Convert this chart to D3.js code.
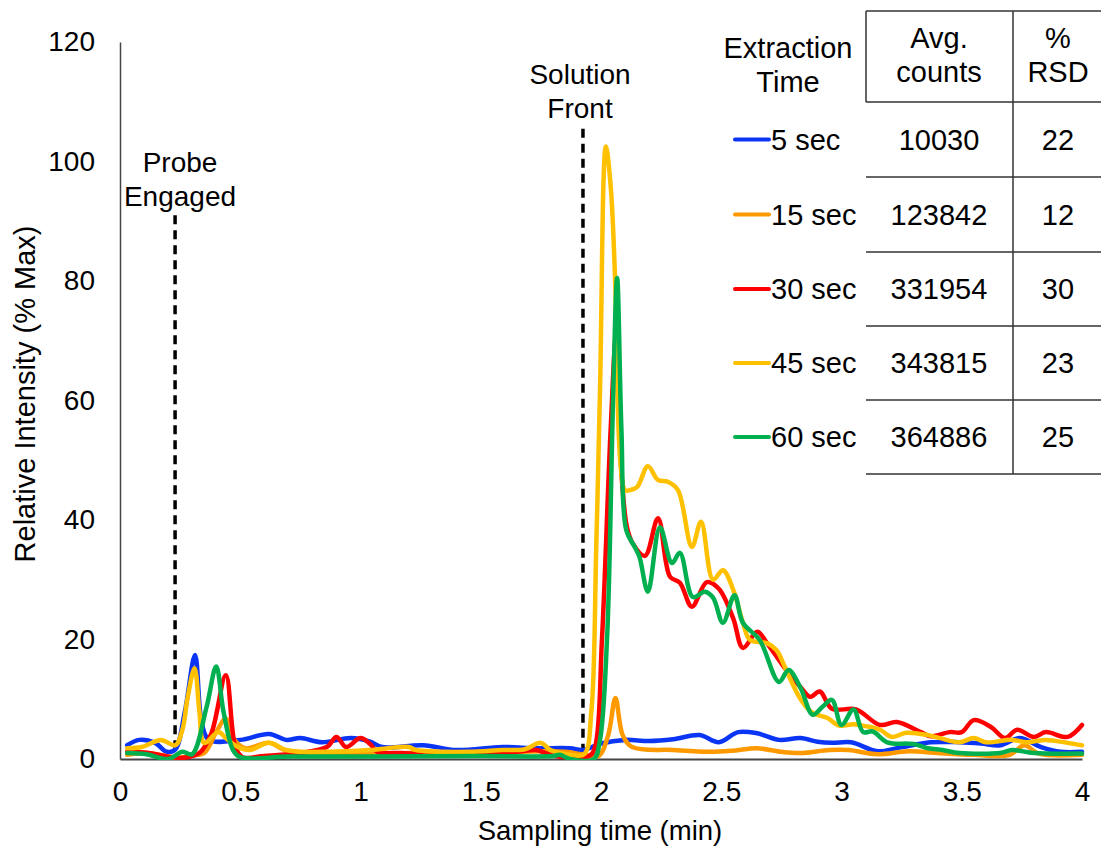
<!DOCTYPE html>
<html>
<head>
<meta charset="utf-8">
<script src="https://cdn.jsdelivr.net/npm/d3@7"></script>
<style>
  body { margin: 0; background: #fff; }
  svg { font-family: "Liberation Sans", Arial, sans-serif; }
</style>
</head>
<body>
<svg id="chart" width="1101" height="846"></svg>
<script>
// series data: [time (min), relative intensity (% max)]
var sec5 = [[0.03,2.3],[0.08,3.2],[0.146,2.7],[0.195,1.2],[0.23,1.6],[0.27,8],[0.312,17.4],[0.34,6],[0.37,3.2],[0.5,3.2],[0.62,4.2],[0.69,3.2],[0.75,3.5],[0.84,2.8],[0.96,3.5],[1.04,2.9],[1.09,2],[1.26,2.3],[1.4,1.5],[1.59,2],[1.73,1.8],[1.87,1.8],[1.925,1.5],[2.0,2.6],[2.1,3.2],[2.2,3.0],[2.3,3.3],[2.41,4.0],[2.49,2.8],[2.57,4.5],[2.65,4.3],[2.74,3.2],[2.83,3.5],[2.9,2.9],[2.96,2.7],[3.04,2.8],[3.15,1.3],[3.24,1.9],[3.37,2.8],[3.49,2.8],[3.58,2.6],[3.66,2.3],[3.74,3.5],[3.83,2.0],[3.91,1.2],[4.0,1.2]];
var sec15 = [[0.03,0.7],[0.1,1],[0.18,0.6],[0.23,0.2],[0.3,0.6],[0.35,1],[0.4,4.5],[0.44,6.8],[0.47,3.5],[0.52,1.8],[0.62,2.7],[0.69,1.4],[0.8,1],[1.0,0.8],[1.2,1],[1.4,1],[1.6,1.1],[1.75,1.3],[1.85,1.2],[1.93,0.7],[1.99,0.5],[2.03,4],[2.06,10.2],[2.09,4],[2.13,2],[2.3,1.5],[2.45,1.2],[2.55,1.4],[2.65,1.8],[2.75,1.2],[2.83,1],[2.95,1.5],[3.03,1.5],[3.15,0.8],[3.28,1.3],[3.4,1],[3.55,0.7],[3.7,0.7],[3.76,2.3],[3.82,0.9],[4.0,0.7]];
var sec30 = [[0.03,1.2],[0.12,1],[0.2,0.4],[0.26,0.2],[0.33,1],[0.38,4.3],[0.44,14],[0.48,2],[0.51,0.3],[0.6,0.5],[0.75,1],[0.86,2],[0.9,3.7],[0.94,2],[1.0,3.5],[1.04,2.5],[1.07,1.2],[1.17,1],[1.3,0.8],[1.5,1],[1.65,1.2],[1.73,1.5],[1.8,0.6],[1.95,0.5],[1.975,2],[2.004,20],[2.04,55],[2.063,71],[2.085,48],[2.108,38.8],[2.133,36],[2.183,34],[2.237,40.3],[2.287,30.5],[2.328,29.5],[2.378,25.5],[2.44,29.6],[2.49,28.5],[2.55,23.5],[2.59,18.6],[2.65,21.3],[2.69,19.4],[2.77,14.9],[2.83,12],[2.87,10.4],[2.91,11.3],[2.96,8.4],[3.06,8.3],[3.16,5.7],[3.23,6.2],[3.33,4.5],[3.37,3.8],[3.45,4.5],[3.5,4.5],[3.55,6.5],[3.62,5.4],[3.68,3.5],[3.73,4.9],[3.8,3.7],[3.85,4.5],[3.94,3.7],[4.0,5.7]];
var sec45 = [[0.03,1.8],[0.09,2],[0.17,3.2],[0.23,2.3],[0.26,5],[0.28,10],[0.31,15.2],[0.33,8],[0.35,2.7],[0.41,4.5],[0.44,3.5],[0.49,2],[0.54,1.5],[0.62,2.7],[0.69,1.5],[0.76,1.2],[0.86,1.2],[1.04,1.5],[1.2,2],[1.23,1.5],[1.45,1.2],[1.59,1.5],[1.68,1.6],[1.75,2.7],[1.79,1.5],[1.87,0.7],[1.93,0.8],[1.96,8],[1.98,35],[1.996,62],[2.02,102.5],[2.04,96],[2.058,81],[2.08,50],[2.1,45],[2.12,45],[2.15,45.5],[2.195,49],[2.237,46.7],[2.278,46.4],[2.32,45],[2.378,35.5],[2.416,39.7],[2.466,30],[2.507,31.6],[2.55,28.3],[2.59,22.8],[2.62,19.9],[2.69,19.4],[2.73,18.2],[2.77,14.9],[2.83,10],[2.88,7.7],[2.94,6.9],[2.99,5.6],[3.05,5.8],[3.1,5.5],[3.16,4.9],[3.21,3.7],[3.27,4.4],[3.36,4],[3.41,3.5],[3.49,2.8],[3.55,3.5],[3.6,2.8],[3.71,3.2],[3.77,2.8],[3.85,3.2],[3.94,2.7],[4.0,2.3]];
var sec60 = [[0.03,1],[0.11,0.8],[0.2,0],[0.26,1.2],[0.3,0.8],[0.36,8.7],[0.4,15.5],[0.43,8],[0.47,1.5],[0.5,0.3],[0.7,0.4],[1.0,0.4],[1.5,0.5],[1.8,0.5],[1.83,0.7],[1.87,0],[1.97,0],[1.995,3],[2.025,20],[2.05,60],[2.067,80.5],[2.085,55],[2.105,38.3],[2.14,35.5],[2.16,33.8],[2.195,28],[2.245,38.8],[2.295,32.8],[2.328,34.5],[2.382,27.1],[2.432,28],[2.466,27],[2.507,22.8],[2.555,27.4],[2.59,22.8],[2.66,19.9],[2.74,12.9],[2.78,14.9],[2.83,11.9],[2.88,7.4],[2.92,8.7],[2.96,9.9],[3.0,5.7],[3.05,8.3],[3.09,4.5],[3.13,4.6],[3.19,2.8],[3.3,2.5],[3.36,1.8],[3.42,1.5],[3.49,1],[3.66,1],[3.71,1.5],[3.8,1],[4.0,0.9]];

var seriesNames = ["5 sec", "15 sec", "30 sec", "45 sec", "60 sec"];
var seriesColors = ["#0b35f5", "#ff9900", "#ff0000", "#ffc000", "#00b050"];
var avgCounts = ["10030", "123842", "331954", "343815", "364886"];
var rsd = ["22", "12", "30", "23", "25"];

var xTicks = [0, 0.5, 1, 1.5, 2, 2.5, 3, 3.5, 4];
var yTicks = [0, 20, 40, 60, 80, 100, 120];

// markers: [time, top of the dashed line]
var probeEngaged = [0.229, 91];
var solutionFront = [1.925, 105.5];

var svg = d3.select("#chart");

var x = d3.scaleLinear().domain([0, 4]).range([120, 1082]);
var y = d3.scaleLinear().domain([0, 120]).range([759, 42]);

// keep the smoothed traces above the x axis
svg.append("clipPath").attr("id", "plotclip")
    .append("rect")
    .attr("x", x(0)).attr("y", 0)
    .attr("width", x(4) - x(0) + 10).attr("height", y(0) + 1);

// axes
var xAxis = svg.append("g")
    .attr("transform", "translate(0," + y(0) + ")")
    .call(d3.axisBottom(x).tickValues(xTicks).tickSize(0).tickPadding(22)
        .tickFormat(d3.format("")));
xAxis.select(".domain").attr("stroke", "#444").attr("stroke-width", 2);
xAxis.selectAll("text").style("font-size", "28px").attr("fill", "#000");

var yAxis = svg.append("g")
    .attr("transform", "translate(" + x(0) + ",0)")
    .call(d3.axisLeft(y).tickValues(yTicks).tickSize(0).tickPadding(25));
yAxis.select(".domain").attr("stroke", "#444").attr("stroke-width", 1.5);
yAxis.selectAll("text").style("font-size", "28px").attr("fill", "#000");

svg.append("text")
    .attr("x", 600).attr("y", 830)
    .attr("text-anchor", "middle")
    .attr("dominant-baseline", "central")
    .style("font-size", "27.5px")
    .text("Sampling time (min)");

svg.append("text")
    .attr("transform", "translate(25,394) rotate(-90)")
    .attr("text-anchor", "middle")
    .attr("dominant-baseline", "central")
    .style("font-size", "29px")
    .text("Relative Intensity (% Max)");

// dashed markers
[probeEngaged, solutionFront].forEach(function(m) {
    svg.append("line")
        .attr("x1", x(m[0])).attr("x2", x(m[0]))
        .attr("y1", y(m[1])).attr("y2", y(0))
        .attr("stroke", "#000")
        .attr("stroke-width", 3.5)
        .attr("stroke-dasharray", "9,6");
});

function twoLines(cx, cy, lines, size) {
    var t = svg.append("text")
        .attr("text-anchor", "middle")
        .style("font-size", size + "px");
    lines.forEach(function(s, i) {
        t.append("tspan")
            .attr("x", cx)
            .attr("y", cy + i * 34)
            .attr("dominant-baseline", "central")
            .text(s);
    });
}
twoLines(180, 162, ["Probe", "Engaged"], 28);
twoLines(580, 74, ["Solution", "Front"], 28);

// traces
var line = d3.line()
    .x(function(d) { return x(d[0]); })
    .y(function(d) { return y(d[1]); })
    .curve(d3.curveCatmullRom.alpha(0.5));

var allSeries = [sec5, sec15, sec30, sec45, sec60];
svg.append("g")
    .attr("clip-path", "url(#plotclip)")
    .selectAll("path")
    .data(allSeries)
    .join("path")
    .attr("d", line)
    .attr("fill", "none")
    .attr("stroke", function(d, i) { return seriesColors[i]; })
    .attr("stroke-width", 4.5)
    .attr("stroke-linejoin", "round")
    .attr("stroke-linecap", "round");

// legend / table
var tbl = svg.append("g");
var rowLines = [11, 102, 177, 252, 326, 400, 474];
rowLines.forEach(function(ly) {
    tbl.append("line")
        .attr("x1", 866).attr("x2", 1101)
        .attr("y1", ly).attr("y2", ly)
        .attr("stroke", "#333").attr("stroke-width", 1.5);
});
tbl.append("line").attr("x1", 866).attr("x2", 866).attr("y1", 11).attr("y2", 102)
    .attr("stroke", "#333").attr("stroke-width", 1.5);
tbl.append("line").attr("x1", 1013).attr("x2", 1013).attr("y1", 11).attr("y2", 474)
    .attr("stroke", "#333").attr("stroke-width", 1.5);

twoLines(788, 48, ["Extraction", "Time"], 29);
twoLines(939, 38, ["Avg.", "counts"], 29);
twoLines(1058, 38, ["%", "RSD"], 29);

seriesNames.forEach(function(name, i) {
    var cy = (rowLines[i + 1] + rowLines[i + 2]) / 2;
    tbl.append("line")
        .attr("x1", 735).attr("x2", 769)
        .attr("y1", cy).attr("y2", cy)
        .attr("stroke", seriesColors[i])
        .attr("stroke-width", 4)
        .attr("stroke-linecap", "round");
    tbl.append("text")
        .attr("x", 771).attr("y", cy)
        .attr("dominant-baseline", "central")
        .style("font-size", "29px")
        .text(name);
    tbl.append("text")
        .attr("x", 939).attr("y", cy)
        .attr("text-anchor", "middle")
        .attr("dominant-baseline", "central")
        .style("font-size", "29px")
        .text(avgCounts[i]);
    tbl.append("text")
        .attr("x", 1058).attr("y", cy)
        .attr("text-anchor", "middle")
        .attr("dominant-baseline", "central")
        .style("font-size", "29px")
        .text(rsd[i]);
});
</script>
</body>
</html>
